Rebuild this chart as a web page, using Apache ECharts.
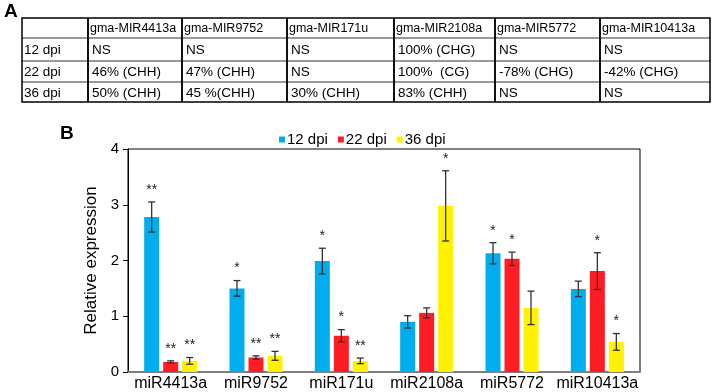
<!DOCTYPE html>
<html>
<head>
<meta charset="utf-8">
<script src="https://cdn.jsdelivr.net/npm/echarts@6/dist/echarts.min.js"></script>
<style>
  html, body { margin: 0; padding: 0; background: #fff; }
  #main { width: 713px; height: 392px; }
</style>
</head>
<body>
<div id="main"></div>
<script>
// panel A table
const tableHeader = ['', 'gma-MIR4413a', 'gma-MIR9752', 'gma-MIR171u', 'gma-MIR2108a', 'gma-MIR5772', 'gma-MIR10413a'];
const tableRow12 = ['12 dpi', 'NS', 'NS', 'NS', '100% (CHG)', 'NS', 'NS'];
const tableRow22 = ['22 dpi', '46% (CHH)', '47% (CHH)', 'NS', '100%  (CG)', '-78% (CHG)', '-42% (CHG)'];
const tableRow36 = ['36 dpi', '50% (CHH)', '45 %(CHH)', '30% (CHH)', '83% (CHH)', 'NS', 'NS'];

// panel B bars
const categories = ['miR4413a', 'miR9752', 'miR171u', 'miR2108a', 'miR5772', 'miR10413a'];
const seriesNames = ['12 dpi', '22 dpi', '36 dpi'];
const dpi12 = [2.78, 1.50, 1.99, 0.90, 2.13, 1.49];
const dpi22 = [0.18, 0.26, 0.65, 1.06, 2.03, 1.81];
const dpi36 = [0.20, 0.29, 0.20, 2.98, 1.15, 0.54];
const err12 = [0.27, 0.14, 0.23, 0.11, 0.19, 0.14];
const err22 = [0.02, 0.03, 0.11, 0.09, 0.12, 0.33];
const err36 = [0.06, 0.08, 0.05, 0.63, 0.30, 0.15];
const sig12 = ['**', '*', '*', '', '*', ''];
const sig22 = ['**', '**', '*', '', '*', '*'];
const sig36 = ['**', '**', '**', '*', '', '*'];

const colors = ['#00AEEF', '#FF1D25', '#FFF200'];
const font = 'Liberation Sans, Arial, sans-serif';
const barWidth = 15;
const barGapPx = 4;

// table layout
const colEdges = [22, 88, 182, 287, 394, 495, 600, 710];
const rowEdges = [18, 38, 61, 82, 102];

const graphics = [];
graphics.push({ type: 'text', left: 4, top: 2, style: { text: 'A', font: 'bold 19px ' + font, fill: '#000' } });
graphics.push({ type: 'text', left: 60, top: 124, style: { text: 'B', font: 'bold 19px ' + font, fill: '#000' } });

[tableHeader, tableRow12, tableRow22, tableRow36].forEach((row, r) => {
  const yMid = (rowEdges[r] + rowEdges[r + 1]) / 2;
  row.forEach((txt, c) => {
    if (!txt) return;
    graphics.push({
      type: 'text',
      x: colEdges[c] + (r === 0 || c === 0 ? 2 : 4),
      y: yMid + 1,
      style: {
        text: txt,
        font: (r === 0 ? '12.5px ' : '13.5px ') + font,
        fill: '#000',
        verticalAlign: 'middle'
      }
    });
  });
});
// horizontal rules
rowEdges.slice(1, -1).forEach(y => {
  graphics.push({ type: 'line', shape: { x1: colEdges[0], y1: y, x2: colEdges[colEdges.length - 1], y2: y }, style: { stroke: '#777', lineWidth: 1.5 } });
});
// vertical rules
colEdges.slice(1, -1).forEach(x => {
  graphics.push({ type: 'line', shape: { x1: x, y1: rowEdges[0], x2: x, y2: rowEdges[rowEdges.length - 1] }, style: { stroke: '#111', lineWidth: 2 } });
});
graphics.push({
  type: 'rect',
  shape: { x: colEdges[0], y: rowEdges[0], width: colEdges[colEdges.length - 1] - colEdges[0], height: rowEdges[rowEdges.length - 1] - rowEdges[0] },
  style: { fill: 'none', stroke: '#000', lineWidth: 1.5 }
});

function barSeries(idx, vals) {
  return {
    name: seriesNames[idx],
    type: 'bar',
    barWidth: barWidth,
    barGap: (barGapPx / barWidth * 100) + '%',
    itemStyle: { color: colors[idx] },
    data: vals
  };
}

function errSeries(idx, vals, errs, sigs) {
  return {
    type: 'custom',
    z: 10,
    silent: true,
    renderItem: (params, api) => {
      const c = api.value(0);
      const v = api.value(1);
      const e = api.value(2);
      const top = api.coord([c, v + e]);
      const bot = api.coord([c, v - e]);
      const x = top[0] + (idx - 1) * (barWidth + barGapPx);
      const cap = 3.5;
      const st = { stroke: '#333', lineWidth: 1.3 };
      const children = [
        { type: 'line', shape: { x1: x, y1: top[1], x2: x, y2: bot[1] }, style: st },
        { type: 'line', shape: { x1: x - cap, y1: top[1], x2: x + cap, y2: top[1] }, style: st },
        { type: 'line', shape: { x1: x - cap, y1: bot[1], x2: x + cap, y2: bot[1] }, style: st }
      ];
      const s = sigs[params.dataIndex];
      if (s) {
        children.push({
          type: 'text',
          x: x,
          y: top[1] - 12,
          style: { text: s, font: '14px ' + font, fill: '#222', align: 'center', verticalAlign: 'middle' }
        });
      }
      return { type: 'group', children: children };
    },
    data: categories.map((c, i) => [i, vals[i], errs[i]])
  };
}

const myChart = echarts.init(document.getElementById('main'));
myChart.setOption({
  animation: false,
  textStyle: { fontFamily: font },
  graphic: graphics,
  legend: {
    data: seriesNames,
    left: 274,
    top: 127,
    itemWidth: 6,
    itemHeight: 6,
    itemGap: 10,
    icon: 'rect',
    textStyle: { fontSize: 15, color: '#000', fontFamily: font, padding: [0, 0, 0, -3] }
  },
  grid: {
    left: 128,
    right: 73,
    top: 149,
    bottom: 20,
    show: true,
    borderColor: '#000',
    borderWidth: 1,
    containLabel: false
  },
  xAxis: {
    type: 'category',
    data: categories,
    axisLine: { lineStyle: { color: '#808080', width: 2 } },
    axisTick: { show: false },
    axisLabel: { fontSize: 16, color: '#000', margin: 4, fontFamily: font, interval: 0 }
  },
  yAxis: {
    type: 'value',
    min: 0,
    max: 4,
    interval: 1,
    name: 'Relative expression',
    nameLocation: 'middle',
    nameGap: 23,
    nameTextStyle: { fontSize: 17, color: '#000', fontFamily: font },
    axisLine: { show: true, lineStyle: { color: '#000', width: 1 } },
    axisTick: { show: true, length: 5, lineStyle: { color: '#000' } },
    axisLabel: { fontSize: 15, color: '#000', margin: 9, fontFamily: font },
    splitLine: { show: false }
  },
  series: [
    barSeries(0, dpi12), barSeries(1, dpi22), barSeries(2, dpi36),
    errSeries(0, dpi12, err12, sig12), errSeries(1, dpi22, err22, sig22), errSeries(2, dpi36, err36, sig36)
  ]
});
</script>
</body>
</html>
